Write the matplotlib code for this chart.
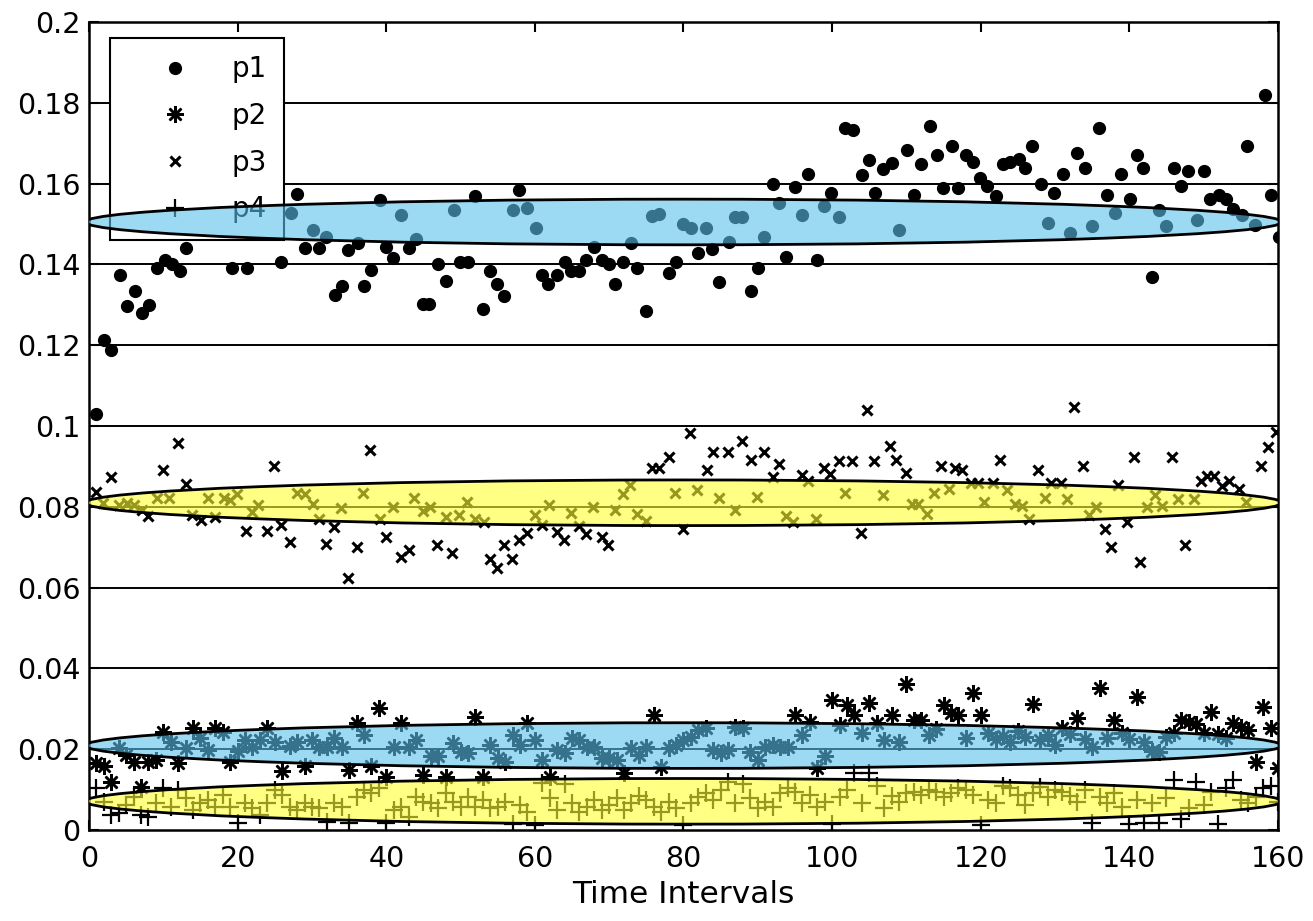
import matplotlib
matplotlib.use('Agg')
import matplotlib.pyplot as plt
from matplotlib.patches import Ellipse

plt.rcParams['font.family'] = ['DejaVu Sans']

# --- dane ---
p1_x = [1, 2, 3, 4.2, 5.1, 6.2, 7.1, 8.1, 9.2, 10.2, 11.1, 12.2, 13.1, 19.2, 21.2, 25.9,
        27.2, 28.0, 29.0, 30.2, 31.0, 31.9, 33.1, 34.0, 34.8, 36.2, 37.0, 38.0, 39.1, 40.0,
        40.9, 42.0, 43.0, 44.0, 45.0, 45.8, 46.9, 48.1, 49.1, 49.9, 51.0, 52.0, 53.0, 54.0,
        54.9, 55.8, 57.0, 57.9, 59.0, 60.1, 60.9, 61.8, 63.0, 64.0, 64.9, 66.0, 66.9, 67.9,
        69.0, 70.0, 70.8, 71.9, 72.9, 73.8, 75.0, 75.8, 76.7, 78.0, 79.0, 80.0, 81.0, 81.9,
        83.0, 83.9, 84.8, 86.1, 87.0, 87.9, 89.1, 90.0, 90.9, 92.0, 92.9, 93.8, 95.0, 95.9,
        96.8, 98.0, 98.9, 99.8, 100.9, 101.8, 102.8, 104.0, 104.9, 105.8, 106.9, 108.0, 109.0,
        110.1, 111.0, 111.9, 113.2, 114.1, 114.9, 116.1, 117.0, 118.0, 119.0, 119.9, 120.8,
        122.1, 123.0, 124.0, 125.1, 126.0, 126.9, 128.1, 129.0, 129.9, 131.1, 132.0, 132.9,
        134.1, 135.0, 135.9, 137.0, 138.1, 138.9, 140.1, 141.0, 141.9, 143.1, 144.0, 144.9,
        146.0, 147.0, 147.9, 149.1, 150.0, 150.9, 152.1, 153.0, 153.9, 155.1, 155.9, 156.9,
        158.2, 159.0, 160.2]
p1_y = [0.103, 0.1213, 0.1188, 0.1374, 0.1297, 0.1334, 0.128, 0.130, 0.139, 0.141, 0.140,
        0.1384, 0.144, 0.139, 0.139, 0.1407, 0.1528, 0.1574, 0.144, 0.1485, 0.144, 0.1469,
        0.1324, 0.1347, 0.1436, 0.1452, 0.1347, 0.1386, 0.1559, 0.1444, 0.1417, 0.1522,
        0.144, 0.1464, 0.1302, 0.1302, 0.140, 0.136, 0.1535, 0.1407, 0.1407, 0.1569, 0.129,
        0.1384, 0.1351, 0.1322, 0.1535, 0.1584, 0.154, 0.1489, 0.1375, 0.1351, 0.1374,
        0.1407, 0.1384, 0.1384, 0.1411, 0.1444, 0.1411, 0.140, 0.1351, 0.1407, 0.1452,
        0.139, 0.1285, 0.152, 0.1524, 0.1378, 0.1407, 0.150, 0.1489, 0.1429, 0.1489, 0.1438,
        0.1357, 0.1456, 0.1518, 0.1518, 0.1335, 0.139, 0.1467, 0.160, 0.1551, 0.1419,
        0.1592, 0.1522, 0.1625, 0.1411, 0.1545, 0.1577, 0.1518, 0.1737, 0.1733, 0.1621,
        0.1658, 0.1577, 0.1635, 0.165, 0.1485, 0.1683, 0.1572, 0.1649, 0.1743, 0.1671,
        0.1588, 0.1693, 0.1588, 0.1671, 0.1654, 0.1615, 0.1594, 0.1569, 0.1649, 0.1654,
        0.166, 0.1638, 0.1693, 0.160, 0.1502, 0.1577, 0.1625, 0.1478, 0.1677, 0.1638,
        0.1496, 0.1737, 0.1572, 0.1528, 0.1625, 0.1561, 0.1671, 0.1638, 0.1368, 0.1535,
        0.1496, 0.1638, 0.1594, 0.1632, 0.1511, 0.1632, 0.1561, 0.1572, 0.1561, 0.1538,
        0.1522, 0.1693, 0.1498, 0.182, 0.1572, 0.1469]

p3_x = [1.0, 1.9, 3.0, 4.1, 5.1, 6.1, 7.1, 7.9, 9.1, 10.0, 10.8, 12.0, 13.1, 13.8, 15.1,
        16.0, 16.9, 18.1, 19.0, 19.9, 21.1, 22.0, 22.8, 24.0, 24.9, 25.8, 27.0, 28.0, 29.0,
        30.1, 31.0, 31.9, 33.0, 33.9, 34.8, 36.0, 36.9, 37.8, 39.1, 40.0, 40.9, 42.0, 43.0,
        43.8, 45.0, 45.9, 46.8, 48.1, 48.9, 49.8, 50.9, 51.9, 53.1, 54.0, 54.9, 55.9, 56.9,
        57.8, 58.9, 60.0, 60.9, 61.9, 63.0, 63.9, 64.8, 65.9, 66.9, 67.8, 69.0, 69.9, 70.8,
        71.9, 72.8, 73.7, 74.9, 75.8, 76.7, 78.0, 78.9, 80.0, 80.9, 81.8, 83.1, 84.0, 84.8,
        86.0, 86.9, 87.9, 89.1, 89.9, 90.8, 92.1, 92.9, 93.8, 94.8, 95.9, 96.8, 97.9, 98.9,
        99.7, 100.9, 101.8, 102.7, 103.9, 104.7, 105.7, 106.8, 107.8, 108.6, 109.9, 110.8,
        111.6, 112.8, 113.7, 114.6, 115.7, 116.6, 117.5, 118.7, 119.7, 120.5, 121.7, 122.6,
        123.5, 124.6, 125.5, 126.5, 127.7, 128.6, 129.5, 130.8, 131.6, 132.5, 133.7, 134.6,
        135.5, 136.7, 137.6, 138.5, 139.7, 140.6, 141.5, 142.4, 143.5, 144.4, 145.7, 146.6,
        147.5, 148.7, 149.6, 150.5, 151.4, 152.5, 153.4, 154.7, 155.7, 157.7, 158.6, 159.8]
p3_y = [0.0837, 0.081, 0.0873, 0.0804, 0.081, 0.0804, 0.0792, 0.0777, 0.0823, 0.0891,
        0.0823, 0.0957, 0.0856, 0.078, 0.0767, 0.0823, 0.0774, 0.0823, 0.0818, 0.0832,
        0.074, 0.0788, 0.0804, 0.074, 0.0901, 0.0756, 0.0713, 0.0835, 0.0832, 0.0808,
        0.0769, 0.0709, 0.075, 0.0797, 0.0625, 0.0701, 0.0835, 0.0941, 0.0771, 0.0726,
        0.08, 0.0676, 0.0694, 0.0823, 0.079, 0.08, 0.0705, 0.0775, 0.0686, 0.078, 0.0813,
        0.0769, 0.0763, 0.067, 0.0648, 0.0705, 0.067, 0.0718, 0.0736, 0.078, 0.0755,
        0.0804, 0.0738, 0.0719, 0.0785, 0.0752, 0.0733, 0.0799, 0.0726, 0.0705, 0.0792,
        0.0832, 0.0854, 0.0783, 0.0765, 0.0895, 0.0895, 0.0924, 0.0833, 0.0746, 0.0982,
        0.0842, 0.0891, 0.0936, 0.0823, 0.0936, 0.0792, 0.0964, 0.0917, 0.0825, 0.0936,
        0.0874, 0.0907, 0.0777, 0.0763, 0.0879, 0.0864, 0.0771, 0.0895, 0.0882, 0.0913,
        0.0835, 0.0913, 0.0734, 0.104, 0.0913, 0.0830, 0.095, 0.0917, 0.0884, 0.0808,
        0.0808, 0.0783, 0.0835, 0.0901, 0.0845, 0.0895, 0.0891, 0.0858, 0.0858, 0.0813,
        0.0858, 0.0917, 0.0842, 0.0808, 0.0802, 0.0769, 0.0891, 0.0823, 0.086, 0.086,
        0.082, 0.1046, 0.0901, 0.078, 0.0799, 0.0746, 0.0701, 0.0854, 0.0763, 0.0924,
        0.0664, 0.08, 0.0829, 0.0802, 0.0924, 0.082, 0.0705, 0.082, 0.0864, 0.0876,
        0.0876, 0.0851, 0.0864, 0.0845, 0.0813, 0.0901, 0.0947, 0.0985]

# p2 i p4: jeden punkt na przedzial czasowy 1..160
t = list(range(1, 161))
p2 = [0.0165, 0.0158, 0.0120, 0.0202, 0.0186, 0.0169, 0.0107, 0.0169, 0.0173, 0.0243,
      0.0219, 0.0167, 0.0202, 0.0252, 0.0227, 0.0198, 0.0252, 0.0243, 0.0169, 0.0196,
      0.0223, 0.0205, 0.0223, 0.0252, 0.0219, 0.0146, 0.0208, 0.0219, 0.0158, 0.0223,
      0.0205, 0.0206, 0.0227, 0.0205, 0.0149, 0.0264, 0.0235, 0.0158, 0.0301, 0.0132,
      0.0206, 0.0264, 0.0205, 0.0223, 0.0136, 0.0182, 0.0182, 0.0130, 0.0216, 0.0194,
      0.0190, 0.0279, 0.0132, 0.0210, 0.0177, 0.0169, 0.0235, 0.0210, 0.0264, 0.0223,
      0.0173, 0.0132, 0.0198, 0.0190, 0.0227, 0.0223, 0.0206, 0.0206, 0.0177, 0.0177,
      0.0173, 0.0140, 0.0202, 0.0186, 0.0206, 0.0285, 0.0157, 0.0202, 0.0210, 0.0223,
      0.0230, 0.0248, 0.0252, 0.0198, 0.0190, 0.0198, 0.0256, 0.0252, 0.0194, 0.0173,
      0.0206, 0.0210, 0.0206, 0.0206, 0.0285, 0.0235, 0.0268, 0.0153, 0.0182, 0.0323,
      0.0260, 0.0310, 0.0285, 0.0240, 0.0314, 0.0264, 0.0223, 0.0285, 0.0219, 0.0361,
      0.0272, 0.0272, 0.0235, 0.0250, 0.0310, 0.0290, 0.0285, 0.0228, 0.0338, 0.0285,
      0.0240, 0.0225, 0.0232, 0.0218, 0.0245, 0.0230, 0.0312, 0.0222, 0.0235, 0.0210,
      0.0252, 0.0238, 0.0277, 0.0225, 0.0205, 0.0351, 0.0228, 0.0272, 0.0240, 0.0225,
      0.0330, 0.0218, 0.0196, 0.0192, 0.0230, 0.0240, 0.0272, 0.0268, 0.0262, 0.0240,
      0.0293, 0.0238, 0.0228, 0.0264, 0.0255, 0.0248, 0.0169, 0.0305, 0.0252, 0.0153]
p4 = [0.0103, 0.0070, 0.0037, 0.0041, 0.0062, 0.0082, 0.0037, 0.0033, 0.0066, 0.0103,
      0.0058, 0.0099, 0.0078, 0.0050, 0.0066, 0.0074, 0.0058, 0.0087, 0.0058, 0.0017,
      0.0066, 0.0054, 0.0037, 0.0066, 0.0099, 0.0087, 0.0058, 0.0050, 0.0066, 0.0058,
      0.0054, 0.0021, 0.0066, 0.0058, 0.0017, 0.0082, 0.0099, 0.0091, 0.0103, 0.0017,
      0.0050, 0.0058, 0.0033, 0.0082, 0.0070, 0.0066, 0.0054, 0.0091, 0.0070, 0.0058,
      0.0082, 0.0058, 0.0074, 0.0054, 0.0058, 0.0070, 0.0015, 0.0062, 0.0045, 0.0012,
      0.0116, 0.0078, 0.0050, 0.0113, 0.0066, 0.0045, 0.0058, 0.0074, 0.0050, 0.0062,
      0.0078, 0.0050, 0.0066, 0.0085, 0.0074, 0.0058, 0.0045, 0.0070, 0.0054, 0.0012,
      0.0066, 0.0082, 0.0091, 0.0074, 0.0099, 0.0118, 0.0066, 0.0113, 0.0078, 0.0054,
      0.0070, 0.0058, 0.0091, 0.0103, 0.0095, 0.0066, 0.0087, 0.0058, 0.0070, 0.0015,
      0.0082, 0.0099, 0.0140, 0.0066, 0.0140, 0.0110, 0.0054, 0.0085, 0.0070, 0.0091,
      0.0095, 0.0087, 0.0099, 0.0095, 0.0082, 0.0091, 0.0103, 0.0099, 0.0087, 0.0012,
      0.0074, 0.0066, 0.0110, 0.0103, 0.0087, 0.0062, 0.0091, 0.0106, 0.0082, 0.0099,
      0.0095, 0.0085, 0.0070, 0.0099, 0.0017, 0.0082, 0.0066, 0.0091, 0.0058, 0.0015,
      0.0074, 0.0017, 0.0066, 0.0017, 0.0078, 0.0124, 0.0027, 0.0054, 0.0120, 0.0062,
      0.0095, 0.0015, 0.0103, 0.0124, 0.0074, 0.0066, 0.0082, 0.0103, 0.0110, 0.0070]

# elipsy: (srodek y, wysokosc, kolor)
elipsy = [(0.1505, 0.0113, '#5bc0eb'),
          (0.0810, 0.0113, '#ffff33'),
          (0.0209, 0.0113, '#5bc0eb'),
          (0.0071, 0.0113, '#ffff33')]

fig = plt.figure(figsize=(13.13, 9.21), dpi=100)
ax = fig.add_axes([0.0678, 0.0988, 0.9055, 0.8773])

for yv in [0.02 * k for k in range(1, 10)]:
    ax.axhline(yv, color='black', lw=1.4, zorder=1)

ax.plot(p1_x, p1_y, 'o', color='black', ms=8.5, ls='none', label='p1', zorder=3)
ax.plot(t, p2, ls='none', marker=(8, 2, 0), color='black', ms=12, mew=1.8, label='p2', zorder=3)
ax.plot(p3_x, p3_y, 'x', color='black', ms=7, mew=2.2, ls='none', label='p3', zorder=3)
ax.plot(t, p4, '+', color='black', ms=13, mew=1.6, ls='none', label='p4', zorder=3)

leg = ax.legend(loc='upper left', bbox_to_anchor=(0.0177, 0.980), borderaxespad=0,
                fontsize=20, fancybox=False, framealpha=1, edgecolor='black',
                handlelength=3.4, handletextpad=0.35, labelspacing=0.67,
                borderpad=0.62, numpoints=1)
leg.get_frame().set_linewidth(1.5)
leg.set_zorder(5)

for yc, h, kolor in elipsy:
    ax.add_patch(Ellipse((80, yc), 161, h, facecolor=kolor, edgecolor='none', alpha=0.6, zorder=6))
    ax.add_patch(Ellipse((80, yc), 161, h, facecolor='none', edgecolor='black', lw=2, zorder=7))

ax.set_xlim(0, 160)
ax.set_ylim(0, 0.2)
ax.set_xticks(range(0, 161, 20))
ax.set_yticks([0.02 * k for k in range(11)])
ax.set_yticklabels(['0', '0.02', '0.04', '0.06', '0.08', '0.1', '0.12', '0.14', '0.16', '0.18', '0.2'])
ax.tick_params(direction='in', length=7, width=1.5, labelsize=20.5, top=True, right=True)
ax.tick_params(axis='x', pad=11)
ax.tick_params(axis='y', pad=6)
for s in ax.spines.values():
    s.set_linewidth(1.8)
ax.set_xlabel('Time Intervals', fontsize=22.5, labelpad=5)

fig.savefig('out.png', dpi=100)
